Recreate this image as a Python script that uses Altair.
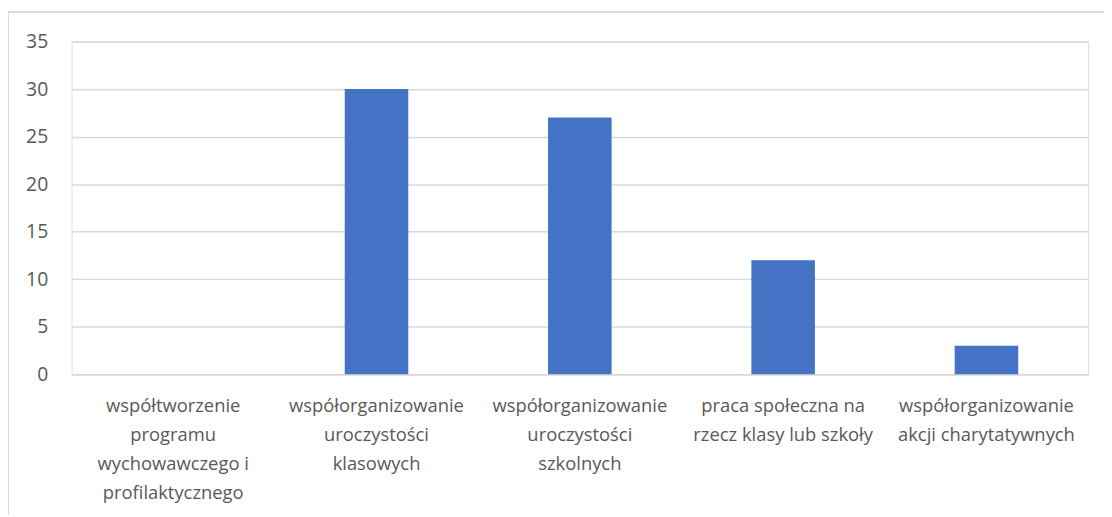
import altair as alt
import pandas as pd

categories = [
    "współtworzenie|programu|wychowawczego i|profilaktycznego",
    "współorganizowanie|uroczystości|klasowych",
    "współorganizowanie|uroczystości|szkolnych",
    "praca społeczna na|rzecz klasy lub szkoły",
    "współorganizowanie|akcji charytatywnych",
]
values = [0, 30, 27, 12, 3]
y_ticks = [0, 5, 10, 15, 20, 25, 30, 35]

df = pd.DataFrame({"cat": categories, "val": values})

FONT = "Open Sans"
W, H = 1024, 335

bars = alt.Chart(df).mark_bar(color="#4472C4").encode(
    x=alt.X(
        "cat:N",
        sort=categories,
        title=None,
        scale=alt.Scale(paddingInner=0.6875, paddingOuter=0.34375),
        axis=alt.Axis(
            labelExpr="split(datum.label, '|')",
            labelAngle=0,
            labelFont=FONT,
            labelFontSize=18.5,
            labelColor="#595959",
            labelLineHeight=29,
            labelPadding=23,
            labelLimit=240,
            ticks=False,
            domain=True,
            domainColor="#d9d9d9",
            domainWidth=1.5,
            grid=False,
        ),
    ),
    y=alt.Y(
        "val:Q",
        title=None,
        scale=alt.Scale(domain=[0, 35], nice=False),
        axis=alt.Axis(
            values=y_ticks,
            labelFont=FONT,
            labelFontSize=19.5,
            labelColor="#595959",
            labelPadding=24,
            ticks=False,
            domain=False,
            grid=True,
            gridColor="#d9d9d9",
            gridWidth=1.5,
        ),
    ),
)

frame = alt.Chart(df).mark_rect(
    fill=None, stroke="#d9d9d9", strokeWidth=1.5, clip=False
).encode(
    x=alt.value(-64),
    x2=alt.value(W + 60),
    y=alt.value(-30),
    y2=alt.value(H + 300),
)

chart = alt.layer(frame, bars).properties(
    width=W,
    height=H,
    autosize=alt.AutoSizeParams(type="none"),
    padding={"left": 64, "top": 32, "right": 16, "bottom": 140},
).configure_view(stroke=None).configure(background="white")

chart.save("out.html", embed_options={"renderer": "svg", "actions": False})
